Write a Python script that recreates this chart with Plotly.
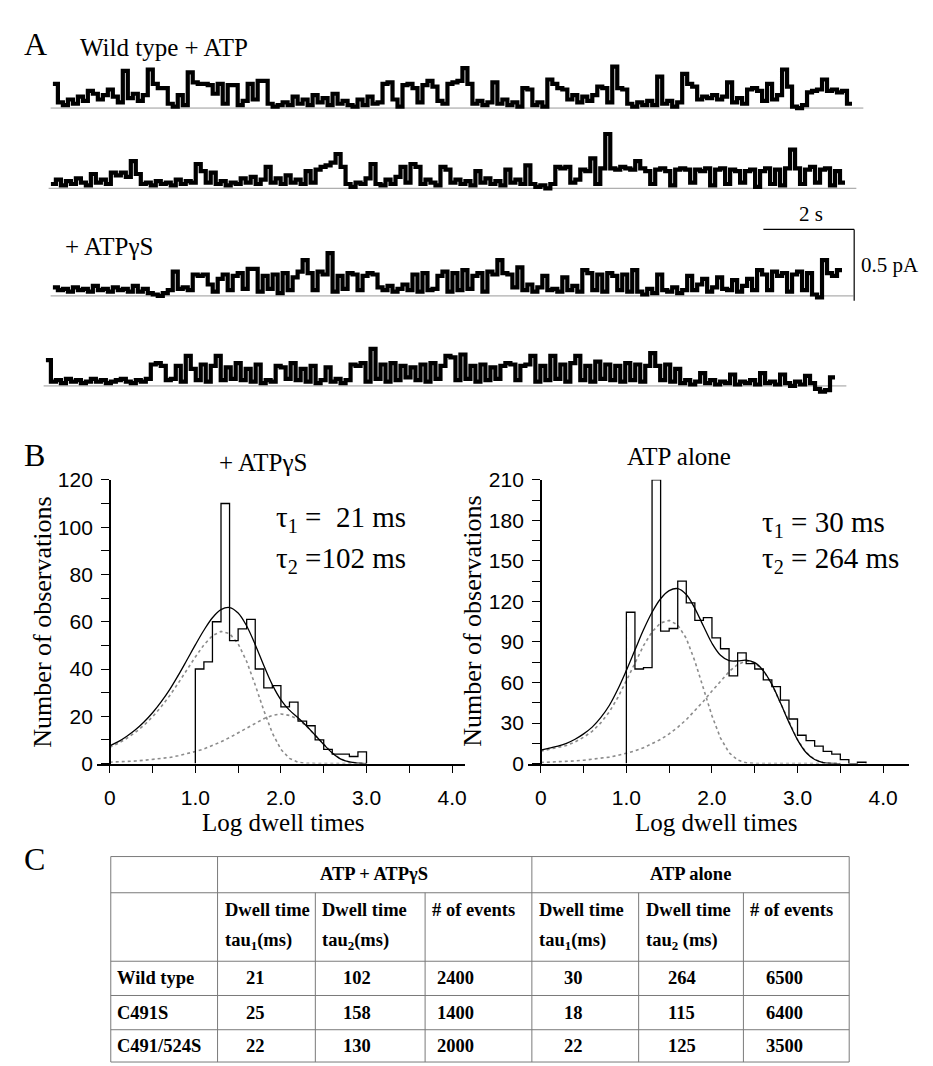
import plotly.graph_objects as go

W, H = 933, 1066
SERIF = "Liberation Serif, Times New Roman, serif"
NARROW = "Liberation Sans Narrow, Arial Narrow, Liberation Sans, Arial, sans-serif"

# ── Panel A: single-channel current traces (pA x 100), one sample every 0.11 s ──
sample_dt = 0.11
trace_wt_1 = [17, 4, 2, 6, 3, 8, 5, 12, 10, 6, 9, 13, 8, 4, 26, 7, 10, 5, 9, 27,
              17, 14, 14, 3, 1, 9, 2, 25, 18, 17, 17, 16, 10, 17, 3, 16, 16, 2, 5, 17,
              6, 19, 19, 3, 1, 2, 4, 2, 8, 3, 6, 2, 9, 4, 7, 2, 10, 3, 5, 2,
              1, 6, 2, 8, 3, 4, 17, 18, 6, 1, 16, 17, 14, 4, 16, 19, 15, 5, 3, 17,
              18, 19, 28, 17, 3, 5, 2, 4, 18, 3, 6, 2, 4, 1, 14, 13, 2, 4, 1, 20,
              17, 14, 13, 6, 9, 4, 8, 5, 9, 15, 14, 4, 29, 14, 13, 3, 1, 4, 2, 5,
              2, 22, 3, 5, 1, 4, 24, 17, 15, 6, 8, 7, 9, 6, 8, 18, 4, 7, 3, 13,
              14, 12, 5, 17, 6, 9, 27, 15, 1, 0, 2, 11, 12, 13, 20, 12, 13, 11, 12, 3]
trace_wt_2 = [3, 6, 2, 5, 3, 7, 4, 2, 10, 4, 6, 3, 11, 9, 11, 8, 19, 10, 3, 4,
              2, 5, 3, 4, 2, 6, 3, 5, 4, 17, 12, 4, 11, 3, 5, 2, 4, 3, 7, 4,
              8, 3, 6, 15, 4, 7, 3, 9, 4, 6, 3, 12, 4, 13, 15, 16, 18, 24, 15, 3,
              1, 4, 3, 7, 17, 3, 2, 6, 3, 8, 15, 4, 17, 15, 3, 6, 4, 2, 15, 13,
              4, 6, 3, 5, 2, 12, 4, 7, 3, 5, 2, 13, 4, 6, 3, 16, 3, 1, 2, 0,
              3, 15, 14, 15, 4, 6, 13, 12, 21, 3, 14, 38, 14, 13, 15, 14, 13, 19, 14, 12,
              3, 13, 14, 12, 2, 13, 14, 13, 4, 13, 12, 14, 2, 13, 14, 3, 13, 12, 4, 12,
              13, 1, 12, 14, 3, 13, 2, 14, 27, 14, 3, 13, 15, 4, 13, 14, 2, 12, 4]
trace_gs_1 = [6, 4, 5, 3, 6, 4, 5, 3, 7, 4, 5, 3, 6, 4, 5, 3, 7, 3, 5, 2,
              1, 0, 2, 4, 17, 5, 6, 4, 15, 14, 15, 8, 3, 12, 15, 4, 14, 16, 5, 19,
              19, 3, 14, 5, 15, 2, 16, 4, 13, 17, 25, 16, 4, 17, 15, 30, 3, 14, 5, 16,
              15, 4, 14, 16, 15, 6, 4, 7, 3, 5, 8, 4, 15, 3, 16, 4, 5, 14, 17, 3,
              16, 4, 18, 5, 14, 16, 3, 17, 15, 25, 16, 15, 6, 20, 4, 8, 3, 6, 14, 4,
              5, 3, 13, 4, 7, 3, 18, 16, 4, 15, 3, 16, 14, 4, 15, 3, 18, 3, 1, 5,
              2, 15, 4, 3, 6, 2, 4, 14, 4, 8, 12, 3, 6, 13, 5, 4, 11, 3, 7, 12,
              4, 18, 15, 4, 17, 14, 16, 3, 15, 17, 4, 16, 1, -1, 25, 16, 14, 18]
trace_gs_2 = [18, 3, 4, 2, 5, 3, 4, 2, 3, 5, 3, 4, 2, 3, 4, 5, 3, 2, 4, 3,
              5, 15, 16, 14, 4, 5, 14, 3, 21, 12, 4, 15, 3, 14, 21, 4, 13, 5, 16, 4,
              12, 3, 15, 2, 4, 3, 14, 13, 5, 16, 4, 12, 3, 14, 2, 4, 13, 3, 5, 2,
              4, 15, 14, 16, 3, 26, 5, 15, 3, 16, 4, 14, 6, 13, 4, 15, 3, 16, 5, 14,
              21, 20, 4, 22, 5, 14, 3, 15, 4, 13, 5, 14, 16, 15, 4, 14, 15, 21, 3, 14,
              4, 21, 5, 15, 3, 16, 21, 4, 14, 3, 17, 5, 15, 4, 14, 3, 16, 4, 15, 3,
              14, 23, 14, 4, 15, 3, 12, 2, 4, 1, 3, 9, 2, 4, 1, 3, 2, 8, 1, 3,
              2, 4, 1, 9, 2, 3, 1, 8, 2, 0, 3, 1, 7, 2, -2, -4, -3, 6]

# ── Panel B: log dwell-time histograms and fits ──
bin_width = 0.1
bins_gs = [1.0, 1.1, 1.2, 1.3, 1.4, 1.5, 1.6, 1.7, 1.8, 1.9,
           2.0, 2.1, 2.2, 2.3, 2.4, 2.5, 2.6, 2.7, 2.8, 2.9]
counts_gs = [40, 43, 60, 110, 52, 57, 61, 40, 32, 33,
             24, 26, 18, 16, 10, 6, 4, 4, 3, 5]
bins_atp = [1.0, 1.1, 1.2, 1.3, 1.4, 1.5, 1.6, 1.7, 1.8, 1.9,
            2.0, 2.1, 2.2, 2.3, 2.4, 2.5, 2.6, 2.7, 2.8, 2.9,
            3.0, 3.1, 3.2, 3.3, 3.4, 3.5, 3.6, 3.7]
counts_atp = [112, 70, 71, 210, 98, 100, 135, 119, 106, 108,
              93, 85, 65, 82, 74, 70, 62, 57, 47, 33,
              21, 17, 13, 9, 7, 3, 0, 1]

fit_x_gs = [0.0, 0.1, 0.2, 0.3, 0.4, 0.5, 0.6, 0.7, 0.8, 0.9, 1.0, 1.1, 1.2, 1.3, 1.4, 1.5,
            1.6, 1.7, 1.8, 1.9, 2.0, 2.1, 2.2, 2.3, 2.4, 2.5, 2.6, 2.7, 2.8, 2.9, 3.0]
fit_total_gs = [7.5, 9.3, 11.6, 14.3, 17.6, 21.5, 26.1, 31.3, 37.3, 43.7, 50.2, 56.4, 61.7, 65.1,
                66.0, 63.7, 58.2, 50.3, 41.5, 33.3, 27.0, 22.6, 19.4, 15.9, 12.0, 8.1, 4.5,
                1.9, 0.7, 0.2, 0.0]
fit_fast_gs = [6.9, 8.6, 10.7, 13.2, 16.2, 19.8, 24.0, 28.7, 34.0, 39.6, 45.1, 50.2, 54.1, 55.9,
               55.0, 50.7, 43.2, 33.2, 22.5, 12.9, 6.0, 2.2, 0.6, 0.1, 0.0, 0.0, 0.0,
               0.0, 0.0, 0.0, 0.0]
fit_slow_gs = [0.6, 0.7, 0.9, 1.1, 1.4, 1.7, 2.1, 2.6, 3.3, 4.1, 5.1, 6.2, 7.6, 9.2,
               11.0, 13.0, 15.0, 17.1, 19.0, 20.4, 21.0, 20.4, 18.8, 15.8, 12.0, 8.1, 4.5,
               1.9, 0.7, 0.2, 0.0]

fit_x_atp = [0.0, 0.1, 0.2, 0.3, 0.4, 0.5, 0.6, 0.7, 0.8, 0.9, 1.0, 1.1, 1.2, 1.3, 1.4, 1.5,
             1.6, 1.7, 1.8, 1.9, 2.0, 2.1, 2.2, 2.3, 2.4, 2.5, 2.6, 2.7, 2.8, 2.9, 3.0,
             3.1, 3.2, 3.3, 3.4, 3.5]
fit_total_atp = [10.0, 11.5, 13.0, 15.0, 18.0, 22.0, 27.0, 34.0, 43.0, 55.0, 69.0, 84.0, 99.0,
                 112.0, 122.0, 128.0, 129.5, 125.2, 114.9, 101.8, 89.1, 80.2, 76.2, 76.0, 76.5,
                 74.7, 68.8, 58.6, 45.0, 30.5, 17.6, 8.2, 3.0, 0.8, 0.1, 0.0]
fit_fast_atp = [9.2, 10.5, 11.8, 13.4, 16.0, 19.5, 23.9, 30.1, 38.2, 48.9, 61.4, 74.6, 87.3,
                97.5, 104.1, 106.0, 102.6, 92.7, 75.9, 55.7, 35.4, 18.9, 8.1, 2.6, 0.6,
                0.1, 0.0, 0.0, 0.0, 0.0, 0.0, 0.0, 0.0, 0.0, 0.0, 0.0]
fit_slow_atp = [0.8, 1.0, 1.2, 1.6, 2.0, 2.5, 3.1, 3.9, 4.8, 6.1, 7.6, 9.4, 11.7, 14.5, 17.9,
                22.0, 26.9, 32.5, 39.0, 46.1, 53.7, 61.3, 68.1, 73.4, 75.9, 74.6, 68.8,
                58.6, 45.0, 30.5, 17.6, 8.2, 3.0, 0.8, 0.1, 0.0]

x_ticks = [0, 1.0, 2.0, 3.0, 4.0]
x_tick_text = ["0", "1.0", "2.0", "3.0", "4.0"]
x_minor_ticks = [0.5, 1.5, 2.5, 3.5]

# ── Panel C: table ──
row_names = ["Wild type", "C491S", "C491/524S"]
tau1_gs = [21, 25, 22]
tau2_gs = [102, 158, 130]
events_gs = [2400, 1400, 2000]
tau1_atp = [30, 18, 22]
tau2_atp = [264, 115, 125]
events_atp = [6500, 6400, 3500]


def px(x):
    return x / W


def py(y):
    return 1 - y / H


fig = go.Figure()
layout_axes = {}

# ── Panel A traces ───────────────────────────────────────────────────────────
px_per_s = 91 / 2          # 2 s scale bar is 91 px long
pa_range = [-0.1, 0.4]
pa_px = 146                # px per pA (0.5 pA = 73 px)
traces_a = [(trace_wt_1, 45, 90), (trace_wt_2, 43, 172),
            (trace_gs_1, 45, 282), (trace_gs_2, 38, 374)]

for i, (vals, start, base) in enumerate(traces_a):
    n = i + 1
    xa = "x" if n == 1 else f"x{n}"
    ya = "y" if n == 1 else f"y{n}"
    t = [k * sample_dt for k in range(len(vals))] + [len(vals) * sample_dt]
    y = [v / 100 for v in vals] + [vals[-1] / 100]
    fig.add_trace(go.Scatter(x=[-0.05, t[-1] + 0.25], y=[0, 0], mode="lines",
                             line=dict(color="#9a9a9a", width=1),
                             xaxis=xa, yaxis=ya, showlegend=False, hoverinfo="skip"))
    fig.add_trace(go.Scatter(x=t, y=y, mode="lines", line_shape="hv",
                             line=dict(color="black", width=4.2),
                             xaxis=xa, yaxis=ya, showlegend=False))
    bottom = base + (0 - pa_range[0]) * pa_px
    top = bottom - (pa_range[1] - pa_range[0]) * pa_px
    layout_axes["xaxis" if n == 1 else f"xaxis{n}"] = dict(
        domain=[0, 1], range=[-start / px_per_s, (W - start) / px_per_s],
        visible=False, anchor=ya)
    layout_axes["yaxis" if n == 1 else f"yaxis{n}"] = dict(
        domain=[py(bottom), py(top)], range=pa_range, visible=False, anchor=xa)

# ── Panel B histograms ───────────────────────────────────────────────────────
hists = [
    (5, bins_gs, counts_gs, fit_x_gs, fit_total_gs, fit_fast_gs, fit_slow_gs,
     (89.1, 457.9), [-0.15, 4.15], 102, [0, 120], 10, 20),
    (6, bins_atp, counts_atp, fit_x_atp, fit_total_atp, fit_fast_atp, fit_slow_atp,
     (521.1, 902.7), [-0.15, 4.3], 534, [0, 210], 15, 30),
]
tick_style = dict(ticks="outside", ticklen=8, tickwidth=1.3, tickcolor="black")
for (n, bins, counts, fx, ftot, ffast, fslow, dom, xr, ypos, yr, minor, major) in hists:
    xa, ya = f"x{n}", f"y{n}"
    for comp in (ffast, fslow):
        fig.add_trace(go.Scatter(x=fx, y=comp, mode="lines",
                                 line=dict(color="#8c8c8c", width=1.6, dash="dot"),
                                 xaxis=xa, yaxis=ya, showlegend=False))
    sx = [bins[0]] + bins + [bins[-1] + bin_width]
    sy = [0] + counts + [0]
    fig.add_trace(go.Scatter(x=sx, y=sy, mode="lines", line_shape="hv",
                             line=dict(color="black", width=1.3),
                             xaxis=xa, yaxis=ya, showlegend=False))
    fig.add_trace(go.Scatter(x=fx, y=ftot, mode="lines", line_shape="spline",
                             line=dict(color="black", width=1.3),
                             xaxis=xa, yaxis=ya, showlegend=False))
    layout_axes[f"xaxis{n}"] = dict(
        domain=[px(dom[0]), px(dom[1])], range=xr, anchor=ya,
        showline=True, linecolor="black", linewidth=1.5, showgrid=False, zeroline=False,
        tickmode="array", tickvals=x_ticks, ticktext=x_tick_text, ticklabelstandoff=6,
        minor=dict(tickmode="array", tickvals=x_minor_ticks, showgrid=False, **tick_style),
        tickfont=dict(family=NARROW, size=21, color="black"), **tick_style)
    layout_axes[f"yaxis{n}"] = dict(
        domain=[py(760), py(470)], range=yr, anchor="free", position=px(ypos),
        showline=True, linecolor="black", linewidth=1.5, showgrid=False, zeroline=False,
        tickmode="linear", tick0=0, dtick=major, ticklabelstandoff=4,
        minor=dict(tickmode="linear", tick0=0, dtick=minor, showgrid=False, **tick_style),
        tickfont=dict(family=NARROW, size=21, color="black"), **tick_style)

# ── Texts ────────────────────────────────────────────────────────────────────
annotations = []


def text(x, y, s, size, anchor="center", angle=0, bold=False, font=SERIF):
    annotations.append(dict(
        x=px(x), y=py(y), xref="paper", yref="paper", text=f"<b>{s}</b>" if bold else s,
        showarrow=False, xanchor=anchor, yanchor="middle", textangle=angle,
        font=dict(family=font, size=size, color="black")))


text(14, 25, "A", 32, "left")
text(70, 28, "Wild type + ATP", 25, "left")
text(55, 231, "+ ATPγS", 25, "left")
text(805, 198, "2 s", 21)
text(853, 250, "0.5 pA", 21, "left")

text(14, 445, "B", 32, "left")
text(256, 452, "+ ATPγS", 25)
text(672, 446, "ATP alone", 25)
text(267, 510, "τ<sub>1</sub> =  21 ms", 29, "left")
text(267, 552, "τ<sub>2</sub> =102 ms", 29, "left")
text(754, 515, "τ<sub>1</sub> = 30 ms", 29, "left")
text(754, 552, "τ<sub>2</sub> = 264 ms", 29, "left")
text(35, 615, "Number of observations", 26, angle=-90)
text(466, 615, "Number of observations", 26, angle=-90)
text(276, 820, "Log dwell times", 25)
text(710, 820, "Log dwell times", 25)

text(14, 858, "C", 32, "left")

# table grid
col_x = [103, 210, 308, 418, 525, 632, 737, 843]
row_y = [855, 892, 962, 997, 1032, 1065]
shapes = []


def hline(x0, x1, y, color="#7a7a7a", width=1):
    shapes.append(dict(type="line", xref="paper", yref="paper", x0=px(x0), x1=px(x1),
                       y0=py(y), y1=py(y), line=dict(color=color, width=width)))


def vline(x, y0, y1, color="#7a7a7a", width=1):
    shapes.append(dict(type="line", xref="paper", yref="paper", x0=px(x), x1=px(x),
                       y0=py(y0), y1=py(y1), line=dict(color=color, width=width)))


for y in row_y:
    hline(col_x[0], col_x[-1], y)
for x in col_x:
    if x in (103, 210, 525, 843):
        vline(x, row_y[0], row_y[-1])
    else:
        vline(x, row_y[1], row_y[-1])

TS = 18.5
text(367, 873, "ATP + ATPγS", TS, bold=True)
text(684, 873, "ATP alone", TS, bold=True)
head_top = ["Dwell time", "Dwell time", "# of events", "Dwell time", "Dwell time", "# of events"]
head_bot = ["tau<sub>1</sub>(ms)", "tau<sub>2</sub>(ms)", "", "tau<sub>1</sub>(ms)",
            "tau<sub>2</sub> (ms)", ""]
for j in range(6):
    text(col_x[j + 1] + 5, 910, head_top[j], TS, "left", bold=True)
    if head_bot[j]:
        text(col_x[j + 1] + 5, 942, head_bot[j], TS, "left", bold=True)

value_x = [248, 350, 448, 567, 675, 778]
columns = [tau1_gs, tau2_gs, events_gs, tau1_atp, tau2_atp, events_atp]
for r, name in enumerate(row_names):
    yc = (row_y[r + 2] + row_y[r + 3]) / 2
    text(107, yc, name, TS, "left", bold=True)
    for j, col in enumerate(columns):
        text(value_x[j], yc, str(col[r]), TS, bold=True)

# scale bar
shapes.append(dict(type="line", xref="paper", yref="paper", x0=px(757), x1=px(848),
                   y0=py(214), y1=py(214), line=dict(color="black", width=1.2)))
shapes.append(dict(type="line", xref="paper", yref="paper", x0=px(848), x1=px(848),
                   y0=py(214), y1=py(287), line=dict(color="black", width=1.2)))

fig.update_layout(
    width=W, height=H, margin=dict(l=0, r=0, t=0, b=0),
    paper_bgcolor="white", plot_bgcolor="rgba(0,0,0,0)",
    showlegend=False, annotations=annotations, shapes=shapes, **layout_axes)

fig.write_html("out.html")
